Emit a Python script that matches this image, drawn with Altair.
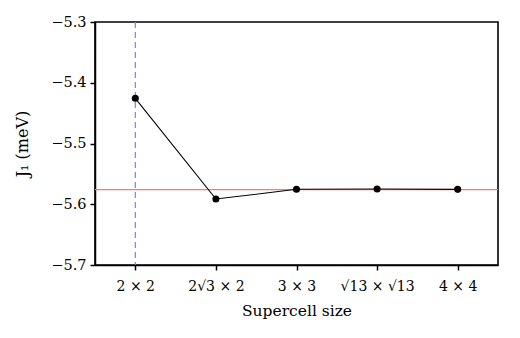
import altair as alt
import pandas as pd

labels = ["2 × 2", "2√3 × 2", "3 × 3", "√13 × √13", "4 × 4"]
idx = [0, 1, 2, 3, 4]
j1 = [-5.4256, -5.5914, -5.5754, -5.5750, -5.5755]
ref_value = -5.576
ref_x = 0

df = pd.DataFrame({"i": idx, "j1": j1, "label": labels})
hdf = pd.DataFrame({"y": [ref_value]})
vdf = pd.DataFrame({"x": [ref_x]})

font = "DejaVu Serif"
label_expr = "[" + ",".join("'" + l + "'" for l in labels) + "][datum.value]"

xscale = alt.Scale(domain=[-0.5, 4.5], nice=False, zero=False)
yscale = alt.Scale(domain=[-5.7, -5.3], nice=False, zero=False)

xaxis = alt.Axis(values=idx, labelExpr=label_expr, title="Supercell size", grid=False,
                 tickSize=5, tickColor="black", tickWidth=1.5, domainColor="black",
                 domainWidth=1.5, labelColor="black",
                 labelFont=font, labelFontSize=14, titleFont=font, titleFontSize=15.5,
                 titleFontWeight="normal", labelPadding=9, titlePadding=10, titleColor="black")
yaxis = alt.Axis(values=[-5.7, -5.6, -5.5, -5.4, -5.3], format=".1f", title="J₁ (meV)",
                 grid=False, tickSize=5, tickColor="black", tickWidth=1.5, domainColor="black",
                 domainWidth=1.5, labelColor="black", labelFont=font, labelFontSize=14.5,
                 titleFont=font, titleFontSize=16, titleFontWeight="normal", titlePadding=20,
                 titleColor="black", labelPadding=4,
                 labelExpr="replace(datum.label, '-', '−')")

hline = alt.Chart(hdf).mark_rule(color="#f77", strokeWidth=1.2).encode(
    y=alt.Y("y:Q", scale=yscale, axis=yaxis)
)
vline = alt.Chart(vdf).mark_rule(color="#7a7aff", strokeWidth=1.2, strokeDash=[6, 4]).encode(
    x=alt.X("x:Q", scale=xscale, axis=xaxis)
)
line = alt.Chart(df).mark_line(color="black", strokeWidth=1.1).encode(
    x=alt.X("i:Q", scale=xscale, axis=xaxis),
    y=alt.Y("j1:Q", scale=yscale, axis=yaxis),
)
pts = alt.Chart(df).mark_circle(color="black", size=50, opacity=1).encode(
    x=alt.X("i:Q", scale=xscale, axis=xaxis),
    y=alt.Y("j1:Q", scale=yscale, axis=yaxis),
)

chart = alt.layer(hline, vline, line, pts).properties(
    width=403, height=243,
    background="white",
    autosize=alt.AutoSizeParams(type="none"),
    padding={"left": 95, "top": 22, "right": 22, "bottom": 73},
).configure_view(stroke="#000000", strokeWidth=1.6, strokeOpacity=1)

chart.save("out.html", embed_options={"renderer": "svg", "actions": False})
